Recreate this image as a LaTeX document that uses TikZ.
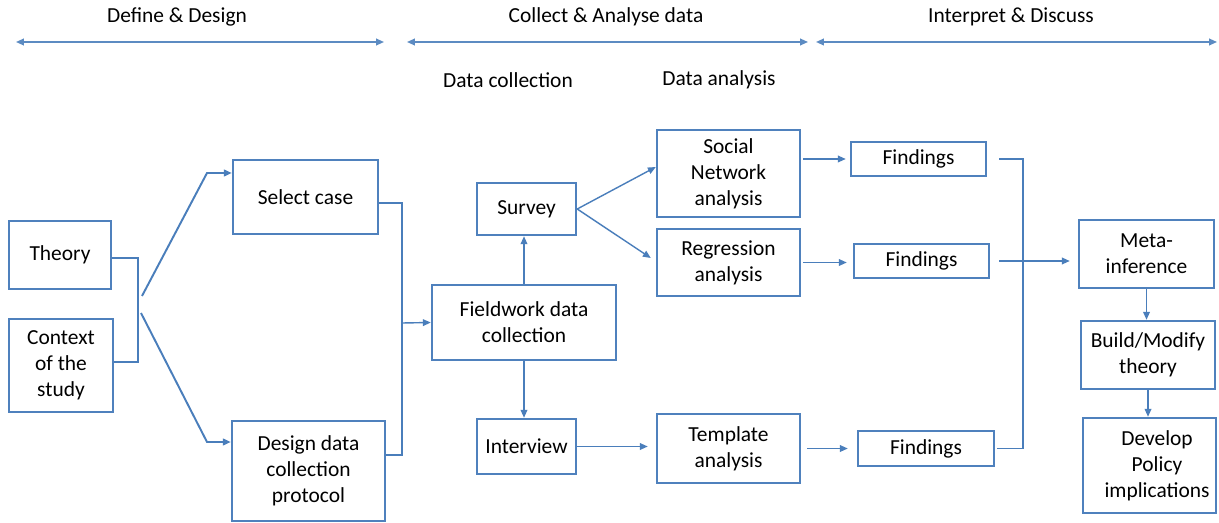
\documentclass[tikz,border=0pt]{standalone}
\usepackage{fontspec}
\setmainfont{Carlito}
\usetikzlibrary{arrows.meta}

\definecolor{boxblue}{RGB}{79,129,189}
\definecolor{lineblue}{RGB}{74,126,187}

\tikzset{
  every node/.style={font=\fontsize{12.2}{14.8}\selectfont},
  box/.style={draw=boxblue, line width=1.4pt, align=center, inner sep=2pt},
  link/.style={draw=lineblue, line width=0.8pt},
  arr/.style={link, -{Triangle[length=4.5pt,width=3.8pt]}},
  phase/.style={draw=lineblue!90, line width=0.9pt,
    {Triangle[length=4.5pt,width=3.8pt]}-{Triangle[length=4.5pt,width=3.8pt]}}
}

\begin{document}
\begin{tikzpicture}[x=0.02cm,y=-0.02cm]
  \useasboundingbox (0,0) rectangle (1219,523);

  % Phase headings with their spans
  \node (dd) at (177,17) {Define \& Design};
  \node (ca) at (606,17) {Collect \& Analyse data};
  \node (id) at (1011,17) {Interpret \& Discuss};
  \coordinate (dd-l) at (16,42);  \coordinate (dd-r) at (384,42);
  \coordinate (ca-l) at (407,42); \coordinate (ca-r) at (808,42);
  \coordinate (id-l) at (816,42); \coordinate (id-r) at (1217,42);
  \draw[phase] (dd-l) -- (dd-r);
  \draw[phase] (ca-l) -- (ca-r);
  \draw[phase] (id-l) -- (id-r);

  \node (dcol) at (508,80) {Data collection};
  \node (dana) at (719,80) {Data analysis};

  % Define & Design
  \node[box, minimum width=2.04cm, minimum height=1.36cm] (theory) at (60,255) {Theory};
  \node[box, minimum width=2.08cm, minimum height=1.86cm] (context) at (61,365.5) {Context\\of the\\study};
  \node[box, minimum width=2.90cm, minimum height=1.48cm] (select) at (305.5,197) {Select case};
  \node[box, minimum width=3.06cm, minimum height=2.00cm] (design) at (308.5,471) {Design data\\collection\\protocol};

  % Data collection
  \node[box, minimum width=3.68cm, minimum height=1.50cm] (field) at (524,322.5) {Fieldwork data\\collection};
  \node[box, minimum width=1.98cm, minimum height=1.04cm] (survey) at (526.5,209) {Survey};
  \node[box, minimum width=1.98cm, minimum height=1.10cm] (interview) at (526.5,446.5) {Interview};

  % Data analysis
  \node[box, minimum width=2.86cm, minimum height=1.74cm] (social) at (728.5,173.5) {Social\\Network\\analysis};
  \node[box, minimum width=2.86cm, minimum height=1.34cm] (regress) at (728.5,262.5) {Regression\\analysis};
  \node[box, minimum width=2.86cm, minimum height=1.38cm] (template) at (728.5,448.5) {Template\\analysis};

  \node[box, minimum width=2.70cm, minimum height=0.68cm] (find1) at (918.5,159) {Findings};
  \node[box, minimum width=2.70cm, minimum height=0.68cm] (find2) at (921.5,261) {Findings};
  \node[box, minimum width=2.72cm, minimum height=0.70cm] (find3) at (926,448.5) {Findings};

  % Interpret & Discuss
  \node[box, minimum width=2.70cm, minimum height=1.36cm] (meta) at (1146.5,254) {Meta-\\inference};
  \node[box, minimum width=2.68cm, minimum height=1.36cm] (build) at (1148,355) {Build/Modify\\theory};
  \node[box, minimum width=2.66cm, minimum height=1.90cm] (develop) at (1149.5,465.5) {\hspace{0.3cm}Develop\\\hspace{0.3cm}Policy\\\hspace{0.3cm}implications};

  % theory and context feed both design steps
  \coordinate (mid0) at (138,310);
  \draw[link] ([yshift=-0.06cm]theory.east) -| (mid0);
  \draw[link] ([yshift=0.07cm]context.east) -| (mid0);
  \coordinate (fork-a) at (142,296);
  \coordinate (fork-b) at (141,313);
  \coordinate (bend-a) at (207,173);
  \coordinate (bend-b) at (207,442);
  \draw[arr, line width=1.1pt] (fork-a) -- (bend-a) -- (bend-a -| select.west);
  \draw[arr, line width=1.1pt] (fork-b) -- (bend-b) -- (bend-b -| design.west);

  % case and protocol go into fieldwork
  \coordinate (mid1) at (402,323);
  \draw[link, line width=0.9pt] ([yshift=-0.12cm]select.east) -| (mid1);
  \draw[link, line width=0.9pt] ([yshift=0.32cm]design.east) -| (mid1);
  \draw[arr] (mid1) -- (field.west);

  \draw[arr] (field.north) -- (field.north |- survey.south);
  \draw[arr] (field.south) -- (field.south |- interview.north);

  % survey data split in two analyses
  \draw[arr] (survey.east) -- ([yshift=0.13cm]social.west);
  \draw[arr] (survey.east) -- ([xshift=-0.1cm,yshift=0.09cm]regress.west);
  \draw[arr] (interview.east) -- ([xshift=-0.16cm]interview.east -| template.west);

  \draw[arr] ([xshift=0.04cm]social.east |- find1.west) -- ([xshift=-0.08cm]find1.west);
  \draw[arr] ([xshift=0.04cm]regress.east) -- ([xshift=-0.12cm]regress.east -| find2.west);
  \draw[arr] ([xshift=0.12cm]template.east) -- ([xshift=-0.18cm]find3.west);

  % findings merge into meta-inference
  \coordinate (mid2) at (1023,262);
  \draw[link] ([xshift=0.24cm]find1.east) -| (mid2);
  \draw[link] ([xshift=0.04cm]find3.east) -| (mid2);
  \draw[arr] ([xshift=0.18cm]find2.east) -- ([xshift=-0.16cm]meta.west |- find2.east);

  \draw[arr] (meta.south) -- (meta.south |- build.north);
  \draw[arr] (build.south) -- (build.south |- develop.north);
\end{tikzpicture}
\end{document}
